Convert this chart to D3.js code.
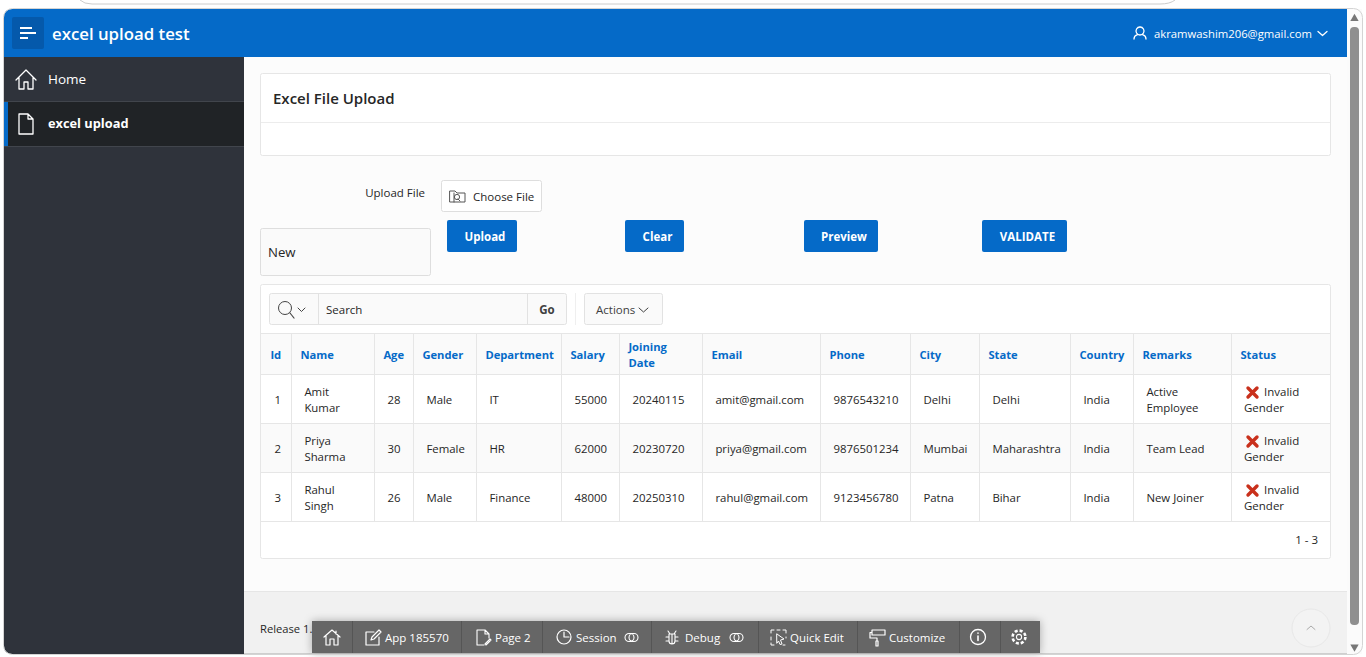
<!DOCTYPE html>
<html>
<head>
<meta charset="utf-8">
<title>excel upload test</title>
<script src="https://d3js.org/d3.v7.min.js"></script>
<style>
  html, body { margin: 0; padding: 0; background: #fff; overflow: hidden; }
  svg { display: block; }
  text { font-family: "Open Sans", "Noto Sans", sans-serif; }
</style>
</head>
<body>
<svg id="visual" width="1366" height="657"></svg>
<script>
// table content
var columns = ["Id", "Name", "Age", "Gender", "Department", "Salary", "Joining\nDate", "Email", "Phone", "City", "State", "Country", "Remarks", "Status"];
var ids = ["1", "2", "3"];
var names = ["Amit\nKumar", "Priya\nSharma", "Rahul\nSingh"];
var ages = ["28", "30", "26"];
var genders = ["Male", "Female", "Male"];
var departments = ["IT", "HR", "Finance"];
var salaries = ["55000", "62000", "48000"];
var joinDates = ["20240115", "20230720", "20250310"];
var emails = ["amit@gmail.com", "priya@gmail.com", "rahul@gmail.com"];
var phones = ["9876543210", "9876501234", "9123456780"];
var cities = ["Delhi", "Mumbai", "Patna"];
var states = ["Delhi", "Maharashtra", "Bihar"];
var countries = ["India", "India", "India"];
var remarks = ["Active\nEmployee", "Team Lead", "New Joiner"];
var statuses = ["Invalid\nGender", "Invalid\nGender", "Invalid\nGender"];
var rowData = [ids, names, ages, genders, departments, salaries, joinDates, emails, phones, cities, states, countries, remarks, statuses];

var navItems = ["Home", "excel upload"];
var buttons = ["Upload", "Clear", "Preview", "VALIDATE"];
var toolbarItems = ["App 185570", "Page 2", "Session", "Debug", "Quick Edit", "Customize"];

// layout
var columnEdges = [261, 291, 374, 413, 476, 561, 619, 702, 820, 910, 979, 1070, 1133, 1231, 1330];
var rowEdges = [374, 423, 472, 521];
var buttonBoxes = [[447, 517], [625, 684], [804, 878], [982, 1067]];
var toolbarEdges = [312, 352, 461, 542, 651, 758, 857, 959, 1000, 1040];

var blue = "#056ac8", ink = "#262626", line = "#e6e6e6", soft = "#fafafa";
var svg = d3.select("#visual");

function box(x0, y0, x1, y1, fill, stroke, r) {
  return svg.append("rect").attr("x", x0 + (stroke ? .5 : 0)).attr("y", y0 + (stroke ? .5 : 0))
    .attr("width", x1 - x0 - (stroke ? 1 : 0)).attr("height", y1 - y0 - (stroke ? 1 : 0))
    .attr("rx", r || 0).attr("fill", fill).attr("stroke", stroke || "none");
}
function label(x, y, s, size, color, weight, anchor) {
  return svg.append("text").attr("x", x).attr("y", y).attr("dy", ".35em")
    .attr("font-size", size).attr("fill", color).attr("font-weight", weight || 400)
    .attr("text-anchor", anchor || "start").text(s);
}
function rule(x0, y0, x1, y1, color) {
  svg.append("line").attr("x1", x0).attr("y1", y0).attr("x2", x1).attr("y2", y1)
    .attr("stroke", color).attr("stroke-width", 1);
}
function icon(x, y, d, color, w, scale) {
  return svg.append("path").attr("transform", "translate(" + x + "," + y + ") scale(" + (scale || 1) + ")")
    .attr("d", d).attr("fill", "none").attr("stroke", color).attr("stroke-width", w || 1.2)
    .attr("stroke-linecap", "round").attr("stroke-linejoin", "round");
}

var homeIcon = "M0 10 L10 0 L20 10 M3 8 V19 H8 V12 H12 V19 H17 V8";
var pageIcon = "M1 0 H10 L15 5 V20 H1 Z M10 0 V5 H15";
var userIcon = "M7 1 a4 4 0 1 0 .01 0 M1 13 C1 9 4 9 4.5 8.5 M13 13 C13 9 10 9 9.5 8.5";
var chevron = "M0 0 L4.5 4 L9 0";
var toggle = "M5 0 H10 A4 4 0 0 1 10 8 H5 A4 4 0 0 1 5 0 Z M6 0 A4 4 0 0 1 6 8 M9 0 A4 4 0 0 0 9 8";

// browser leftovers behind the page
svg.append("path").attr("d", "M80 0 Q84 4 92 4 H1160 Q1170 4 1175 0").attr("fill", "none").attr("stroke", "#ccc");
box(4, 9, 1362, 654, "#fcfcfc", null, 8);

// top bar
svg.append("path").attr("d", "M4 57 V17 Q4 9 12 9 H1347 V57 Z").attr("fill", blue);
box(12, 17, 44, 49, "#0559ab", null, 2);
[[28, 32], [33, 36], [38, 28]].forEach(function(d) {
  svg.append("line").attr("x1", 20).attr("x2", d[1]).attr("y1", d[0]).attr("y2", d[0])
    .attr("stroke", "#fff").attr("stroke-width", 2);
});
label(52, 34, "excel upload test", 16.8, "#fff", 600);
icon(1133, 26, userIcon, "#fff", 1.3);
label(1154, 34, "akramwashim206@gmail.com", 11.3, "#fff");
icon(1318, 31.5, chevron, "#fff", 1.3);

// side nav
svg.append("path").attr("d", "M4 57 H244 V654 H12 Q4 654 4 646 Z").attr("fill", "#2f333b");
rule(4, 101.5, 244, 101.5, "#41454c");
box(4, 102, 244, 146, "#202326");
box(4, 102, 8, 146, blue);
rule(4, 146.5, 244, 146.5, "#41454c");
icon(16, 70, homeIcon, "#fff", 1.3);
icon(18, 114, pageIcon, "#fff", 1.3);
label(48, 79, navItems[0], 13.5, "#fff");
label(48, 124, navItems[1], 12.8, "#fff", 700);

// title region
box(260, 73, 1331, 156, "#fff", "#e6e6e6", 2);
rule(261, 122.5, 1330, 122.5, "#ececec");
label(273, 99, "Excel File Upload", 15, ink, 600);

// upload form
label(425, 193, "Upload File", 11.5, ink, 400, "end");
box(441, 180, 542, 212, "#fff", "#dedede", 2);
icon(450, 191, "M0 0 H5 L7 2 H15 V11 H0 Z M8 8 L10 10 M4 2 V11", "#555", 1, 1);
svg.append("circle").attr("cx", 457).attr("cy", 197).attr("r", 2.6).attr("fill", "none").attr("stroke", "#555");
label(473, 197, "Choose File", 11.5, ink);
box(260, 228, 431, 276, soft, "#dedede", 2);
label(268, 252, "New", 13.2, ink);

svg.selectAll("rect.action").data(buttons).enter().append("rect").attr("class", "action")
  .attr("x", function(d, i) { return buttonBoxes[i][0]; }).attr("y", 220)
  .attr("width", function(d, i) { return buttonBoxes[i][1] - buttonBoxes[i][0]; }).attr("height", 32)
  .attr("rx", 2).attr("fill", blue);
buttons.forEach(function(b, i) {
  label((buttonBoxes[i][0] + buttonBoxes[i][1]) / 2 + 3, 237, b, 11.5, "#fff", 700, "middle");
});

// report region
box(260, 284, 1331, 559, "#fff", "#e6e6e6", 2);
box(269, 293, 567, 325, soft, "#e2e2e2", 2);
rule(318.5, 293, 318.5, 325, "#e2e2e2");
rule(527.5, 293, 527.5, 325, "#e2e2e2");
rule(575.5, 293, 575.5, 325, "#efefef");
svg.append("circle").attr("cx", 285).attr("cy", 308).attr("r", 6.5).attr("fill", "none").attr("stroke", "#444");
icon(290, 313, "M0 0 L4 5", "#444", 1.2);
icon(298, 308, "M0 0 L3.5 3.5 L7 0", "#444", 1);
label(326, 310, "Search", 11.5, ink);
label(547, 310, "Go", 11.5, "#404040", 700, "middle");
box(584, 293, 663, 325, soft, "#e2e2e2", 2);
label(596, 310, "Actions", 11.5, "#404040");
icon(639, 308, chevron, "#404040", 1);

// interactive report table
var x = d3.scaleOrdinal().domain(columns).range(columnEdges);

box(261, 333, 1330, 374, soft);
box(261, 423, 1330, 472, soft);
rule(261, 333.5, 1330, 333.5, line);
rowEdges.forEach(function(r) { rule(261, r + .5, 1330, r + .5, line); });
columnEdges.slice(1, -1).forEach(function(c) { rule(c + .5, 333, c + .5, 521, line); });

function multiline(px, py, s, size, color, weight) {
  var parts = s.split("\n");
  parts.forEach(function(p, k) {
    label(px, py + (k - (parts.length - 1) / 2) * 16, p, size, color, weight);
  });
}

columns.forEach(function(c) {
  multiline(x(c) + 9.4, 355, c, 11.2, blue, 700);
});

rowData.forEach(function(values, c) {
  values.forEach(function(v, r) {
    var top = rowEdges[r], mid = (top + rowEdges[r + 1]) / 2 + 1.5;
    if (columns[c] === "Status") {
      var bits = v.split("\n");
      icon(x(columns[c]) + 15, mid - 14, "M2 2 L11 11 M11 2 L2 11", "#c9301c", 3.4, 1);
      label(x(columns[c]) + 33, mid - 8, bits[0], 11.5, ink);
      label(x(columns[c]) + 13, mid + 8, bits[1], 11.5, ink);
    } else {
      multiline(x(columns[c]) + 13.4, mid, v, 11.4, ink);
    }
  });
});
label(1318, 540, "1 - 3", 11.5, ink, 400, "end");

// footer
box(244, 591, 1347, 654, "#f1f1f1");
rule(244, 591.5, 1347, 591.5, "#e6e6e6");
rule(244, 653.5, 1347, 653.5, "#cfcfcf");
label(260, 629, "Release 1.", 11.2, ink);
svg.append("circle").attr("cx", 1311).attr("cy", 628).attr("r", 19).attr("fill", "#f3f3f3").attr("stroke", "#e8e8e8");
icon(1307, 626, "M0 3.5 L4 0 L8 3.5", "#aaa", 1);

// dev toolbar
box(312, 621, 1040, 653, "#666").style("filter", "drop-shadow(0 0 4px rgba(0,0,0,.3))");
toolbarEdges.slice(1, -1).forEach(function(e) { rule(e + .5, 621, e + .5, 653, "#555"); });
var toolbarX = [385, 495, 576, 685, 790, 889];
toolbarItems.forEach(function(t, i) { label(toolbarX[i], 638, t, 11.5, "#fff"); });
icon(324, 629, "M0 8 L8 1 L16 8 M2 7 V16 H6 V10 H10 V16 H14 V7 M12 2 V5", "#fff", 1.2);
icon(366, 630, "M0 2 H8 M0 2 V15 H13 V7 M5 10 L6 7 L13 0 L15 2 L8 9 Z", "#fff", 1.2);
icon(477, 630, "M0 0 H8 L12 4 V8 M0 0 V15 H7 M8 0 V4 H12 M8 14 L13 9 L14 10 L9 15 Z", "#fff", 1.1);
svg.append("circle").attr("cx", 564).attr("cy", 637).attr("r", 7).attr("fill", "none").attr("stroke", "#fff").attr("stroke-width", 1.2);
icon(564, 632, "M0 0 V5 H5", "#fff", 1.2);
icon(624, 633.5, toggle, "#fff", 1.1);
icon(666, 631, "M3 3 H9 V10 A3 3 0 0 1 3 10 Z M6 3 V13 M3 6 H0 M9 6 H12 M3 10 H0 M9 10 H12 M4 3 L2 0 M8 3 L10 0", "#fff", 1.1);
icon(729, 633.5, toggle, "#fff", 1.1);
icon(771, 630, "M0 3 V0 H3 M6 0 H9 M12 0 H15 V3 M0 7 V10 M0 13 V15 H3 M15 7 V8 M12 15 H14 M6 4 L13 9 L9.5 10 L11 14 L9 14.5 L7.5 11 L6 13 Z", "#fff", 1);
icon(870, 630, "M2 0 H15 V5 H2 Z M2 2.5 H0 V8 H7 V11 M6 11 H8 V16 H6 Z", "#fff", 1.2);
svg.append("circle").attr("cx", 978).attr("cy", 637).attr("r", 7.5).attr("fill", "none").attr("stroke", "#fff").attr("stroke-width", 1.3);
icon(978, 636, "M0 0 V4.5 M0 -3 V-2.8", "#fff", 1.6);
svg.append("circle").attr("cx", 1019).attr("cy", 637).attr("r", 2.6).attr("fill", "none").attr("stroke", "#fff").attr("stroke-width", 1.1);
svg.append("circle").attr("cx", 1019).attr("cy", 637).attr("r", 6.4).attr("fill", "none").attr("stroke", "#fff").attr("stroke-width", 2.6).attr("stroke-dasharray", "3 2");

// scrollbar
box(1347, 9, 1362, 654, "#fbfbfb");
box(1350, 27, 1359, 625, "#8f8f8f", null, 4);
svg.append("path").attr("d", d3.symbol(d3.symbolTriangle, 30)()).attr("transform", "translate(1354.5,18.5)").attr("fill", "#777");
svg.append("path").attr("d", d3.symbol(d3.symbolTriangle, 30)()).attr("transform", "translate(1354.5,647) rotate(180)").attr("fill", "#777");

// window outline
box(3, 8, 1363, 655, "none", "#d4d4d4", 9);
</script>
</body>
</html>
